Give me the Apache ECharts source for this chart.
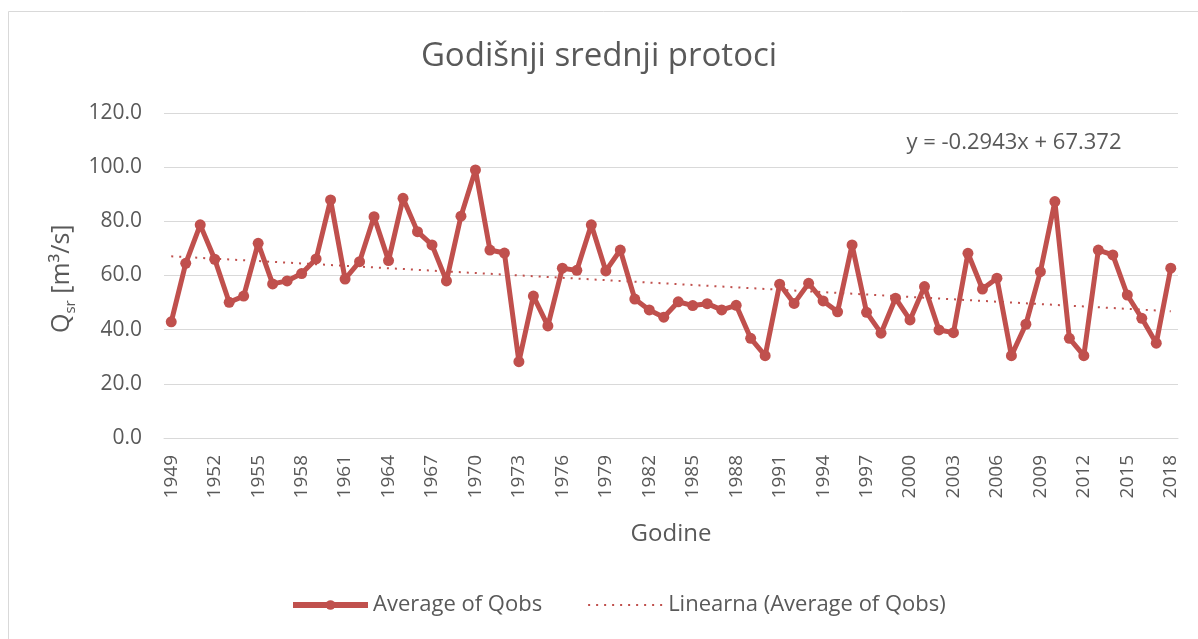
<!DOCTYPE html>
<html>
<head>
<meta charset="utf-8">
<script src="https://cdn.jsdelivr.net/npm/echarts@6/dist/echarts.min.js"></script>
<style>
html,body{margin:0;padding:0;background:#fff;}
#c{width:1198px;height:639px;}
</style>
</head>
<body>
<div id="c"></div>
<script>
const years = [];
for (let y = 1949; y <= 2018; y++) years.push(String(y));

const qobs = [
  42.9, 64.5, 78.7, 66.0, 50.1, 52.4, 71.9, 56.9, 58.0, 60.7,
  66.1, 87.9, 58.7, 65.1, 81.7, 65.5, 88.5, 76.2, 71.3, 58.0,
  81.9, 99.0, 69.4, 68.3, 28.2, 52.4, 41.4, 62.7, 61.9, 78.7,
  61.7, 69.4, 51.3, 47.3, 44.6, 50.3, 48.9, 49.6, 47.3, 49.0,
  36.8, 30.4, 56.8, 49.7, 57.1, 50.6, 46.6, 71.3, 46.4, 38.7,
  51.6, 43.6, 55.9, 39.9, 38.9, 68.2, 55.0, 59.0, 30.4, 42.0,
  61.4, 87.3, 36.8, 30.4, 69.4, 67.6, 52.8, 44.2, 35.0, 62.7
];

// Trend line endpoints
const trendYears = ['1949', '2018'];
const trendValues = [67.1, 46.8];

const yTicks = { min: 0, max: 120, interval: 20 };
const titleText = 'Godišnji srednji protoci';
const equationText = 'y = -0.2943x + 67.372';
const seriesName = 'Average of Qobs';
const trendName = 'Linearna (Average of Qobs)';

const RED = '#C0504D';
const TXT = '#595959';
const FONT = 'Open Sans';

const chart = echarts.init(document.getElementById('c'), null, {renderer: 'canvas'});
chart.setOption({
  backgroundColor: '#fff',
  animation: false,
  textStyle: {fontFamily: FONT, color: TXT},
  title: {
    text: titleText,
    left: 'center',
    top: 35,
    textStyle: {fontFamily: FONT, fontSize: 33, fontWeight: 'normal', color: TXT}
  },
  legend: {
    bottom: 18,
    left: 285,
    itemWidth: 75,
    itemHeight: 12,
    itemGap: 45,
    textStyle: {fontFamily: FONT, fontSize: 22, color: TXT},
    data: [
      {name: seriesName, lineStyle: {width: 6}},
      {name: trendName, itemStyle: {color: 'rgba(0,0,0,0)', borderWidth: 0}, lineStyle: {width: 2}}
    ]
  },
  grid: {left: 164, right: 20, top: 113, bottom: 201, containLabel: false},
  xAxis: {
    type: 'category',
    data: years,
    boundaryGap: true,
    name: 'Godine',
    nameLocation: 'middle',
    nameGap: 84,
    nameTextStyle: {fontFamily: FONT, fontSize: 24, color: TXT},
    axisLine: {lineStyle: {color: '#d9d9d9', width: 1}},
    axisTick: {show: false},
    axisLabel: {
      interval: 2,
      rotate: 90,
      margin: 17,
      fontFamily: FONT,
      fontSize: 19,
      color: TXT
    }
  },
  yAxis: {
    type: 'value',
    min: yTicks.min,
    max: yTicks.max,
    interval: yTicks.interval,
    axisLine: {show: false},
    axisTick: {show: false},
    axisLabel: {
      margin: 22,
      fontFamily: FONT,
      fontSize: 21,
      color: TXT,
      formatter: v => v.toFixed(1)
    },
    splitLine: {lineStyle: {color: '#d9d9d9', width: 1}}
  },
  graphic: [
    {
      type: 'rect',
      shape: {x: 8.5, y: 11.5, width: 1300, height: 700},
      style: {fill: 'none', stroke: '#d9d9d9', lineWidth: 1},
      silent: true, z: -1
    },
    {
      type: 'text',
      x: 42,
      y: 333,
      rotation: Math.PI / 2,
      style: {
        text: '{a|Q}{b|sr}{a| [m³/s]}',
        rich: {
          a: {fontFamily: FONT, fontSize: 25, fill: TXT, lineHeight: 32, verticalAlign: 'bottom'},
          b: {fontFamily: FONT, fontSize: 15, fill: TXT, lineHeight: 22, verticalAlign: 'bottom', padding: [0, 0, -4, 0]}
        }
      }
    },
    {
      type: 'text',
      x: 1014,
      y: 143,
      style: {
        text: equationText,
        fontFamily: FONT,
        fontSize: 22,
        fill: TXT,
        align: 'center',
        verticalAlign: 'middle'
      }
    }
  ],
  series: [
    {
      name: seriesName,
      type: 'line',
      data: qobs,
      symbol: 'circle',
      symbolSize: 11,
      showAllSymbol: true,
      lineStyle: {color: RED, width: 5},
      itemStyle: {color: RED},
      z: 3
    },
    {
      name: trendName,
      type: 'line',
      data: trendYears.map((y, i) => [y, trendValues[i]]),
      symbol: 'none',
      lineStyle: {color: RED, width: 2, type: [2, 6]},
      itemStyle: {color: RED},
      z: 2
    }
  ]
});
</script>
</body>
</html>
